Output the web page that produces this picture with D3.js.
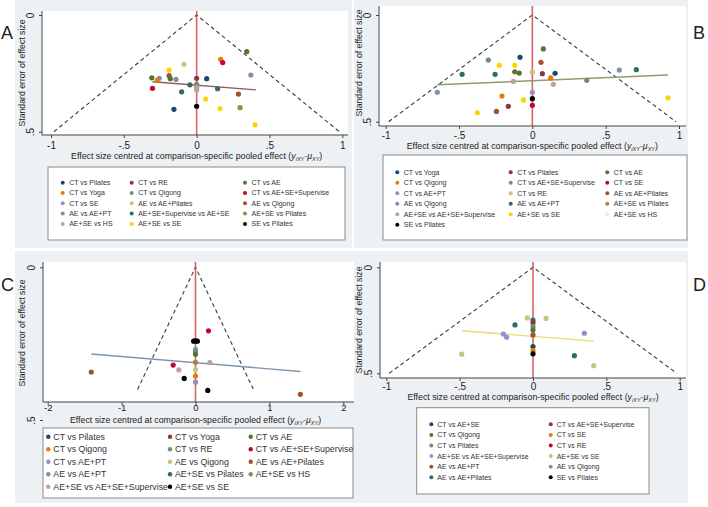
<!DOCTYPE html>
<html>
<head>
<meta charset="utf-8">
<script src="https://cdn.jsdelivr.net/npm/d3@7"></script>
<style>
  body { margin: 0; background: #fff; }
  svg { display: block; font-family: "Liberation Sans", Arial, sans-serif; }
</style>
</head>
<body>
<div id="chart"></div>
<script>
// ---- data ----
var xTicksNarrow = [-1, -0.5, 0, 0.5, 1];
var xTicksWide = [-2, -1, 0, 1, 2];
var yTicks = [0, 0.5];
var panelLabels = ["A", "B", "C", "D"];
var funnelSE = [0.5, 0.5, 0.4, 0.5];   // how far down each funnel is drawn

var namesA = ["CT vs Pilates", "CT vs RE", "CT vs AE", "CT vs Yoga", "CT vs Qigong",
  "CT vs AE+SE+Supervise", "CT vs SE", "AE vs AE+Pilates", "AE vs Qigong", "AE vs AE+PT",
  "AE+SE+Supervise vs AE+SE", "AE+SE vs Pilates", "AE+SE vs HS", "AE+SE vs SE", "SE vs Pilates"];
// [series index, centred effect size, standard error]
var pointsA = [
  [2, 0.344, 0.157], [3, 0.165, 0.19], [5, 0.179, 0.204], [7, -0.087, 0.211], [13, -0.189, 0.236],
  [8, -0.189, 0.26], [9, 0.372, 0.257], [2, -0.308, 0.269], [9, -0.257, 0.271], [3, -0.271, 0.28],
  [2, -0.181, 0.273], [9, -0.142, 0.276], [1, 0, 0.271], [0, 0.069, 0.273], [10, -0.046, 0.299],
  [6, 0, 0.305], [4, 0, 0.297], [12, 0, 0.311], [12, 0, 0.321], [10, 0.144, 0.316],
  [5, -0.303, 0.314], [10, -0.103, 0.329], [8, 0.287, 0.339], [13, 0.062, 0.36], [14, 0, 0.391],
  [0, -0.156, 0.404], [13, 0.16, 0.401], [11, 0.298, 0.397], [13, 0.401, 0.471]];
var fitA = [[-0.303, 0.286], [0.406, 0.321]];

var namesB = ["CT vs Yoga", "CT vs Pilates", "CT vs AE", "CT vs Qigong", "CT vs AE+SE+Supervise",
  "CT vs SE", "CT vs AE+PT", "CT vs RE", "AE vs AE+Pilates", "AE vs Qigong", "AE vs AE+PT",
  "AE+SE vs Pilates", "AE+SE vs AE+SE+Supervise", "AE+SE vs SE", "AE+SE vs HS", "SE vs Pilates"];
var pointsB = [
  [0, -0.084, 0.198], [4, -0.3, 0.211], [13, -0.225, 0.236], [13, -0.12, 0.236], [10, -0.479, 0.278],
  [10, -0.254, 0.278], [2, -0.12, 0.266], [2, -0.089, 0.272], [7, 0, 0.267], [12, -0.13, 0.311],
  [9, -0.648, 0.362], [6, 0, 0.362], [3, -0.207, 0.38], [13, -0.061, 0.398], [15, 0, 0.392],
  [5, 0, 0.423], [1, -0.164, 0.428], [8, -0.245, 0.452], [13, -0.375, 0.458],
  [2, 0.075, 0.159], [8, 0.059, 0.222], [1, 0.068, 0.275], [0, 0.155, 0.273], [3, 0.125, 0.295],
  [12, 0.143, 0.325], [4, 0.371, 0.306], [9, 0.593, 0.258], [10, 0.709, 0.256], [13, 0.925, 0.388]];
var fitB = [[-0.648, 0.327], [0.925, 0.281]];

var namesC = ["CT vs Pilates", "CT vs Yoga", "CT vs AE", "CT vs Qigong", "CT vs RE",
  "CT vs AE+SE+Supervise", "CT vs AE+PT", "AE vs Qigong", "AE vs AE+Pilates", "AE vs AE+PT",
  "AE+SE vs Pilates", "AE+SE vs HS", "AE+SE vs AE+SE+Supervise", "AE+SE vs SE"];
var pointsC = [
  [5, 0.176, 0.208], [13, -0.025, 0.242], [13, 0.025, 0.242], [13, 0, 0.241], [9, 0, 0.269],
  [4, 0, 0.275], [2, 0, 0.285], [11, 0, 0.311], [12, 0.194, 0.312], [5, -0.302, 0.32],
  [12, -0.225, 0.336], [7, 0, 0.335], [3, 0, 0.356], [13, -0.153, 0.364], [6, 0, 0.376],
  [13, 0.166, 0.403], [8, -1.41, 0.343], [8, 1.419, 0.416]];
var fitC = [[-1.41, 0.284], [1.419, 0.341]];

var namesD = ["CT vs AE+SE", "CT vs AE+SE+Supervise", "CT vs Qigong", "CT vs SE", "CT vs Pilates",
  "CT vs RE", "AE+SE vs AE+SE+Supervise", "AE+SE vs SE", "AE vs AE+PT", "AE vs Qigong",
  "AE vs AE+Pilates", "SE vs Pilates"];
var pointsD = [
  [7, -0.039, 0.239], [7, 0.089, 0.241], [10, 0, 0.249], [10, -0.123, 0.272], [1, 0, 0.262],
  [4, 0, 0.28], [2, 0, 0.296], [6, -0.202, 0.315], [6, -0.18, 0.33], [6, 0.35, 0.311],
  [8, 0, 0.319], [0, 0, 0.374], [3, 0, 0.393], [11, 0, 0.408], [7, -0.486, 0.41],
  [10, 0.282, 0.417], [7, 0.414, 0.464]];
var fitD = [[-0.486, 0.299], [0.414, 0.348]];

// stata s2color order, last series of each panel is black
var palette = ["#1a476f", "#90353b", "#55752f", "#e37e00", "#6e8e84", "#c10534", "#938dd2",
  "#cac27e", "#a0522d", "#7b92a8", "#2d6d66", "#9c8847", "#bfa19c", "#ffd200", "#e6edf0"];

var W = 708, H = 507;
var svg = d3.select("#chart").append("svg").attr("width", W).attr("height", H);

var fmt = function (d) {
  return d === 0 ? "0" : String(d).replace(/^(-?)0\./, "$1.");
};

function colorsFor(n) {
  var c = palette.slice(0, n - 1);
  c.push("#000000");
  return c;
}

function drawPanel(cfg) {
  var g = svg.append("g");
  var colors = colorsFor(cfg.names.length);

  // graph region + plot region
  g.append("rect").attr("x", cfg.bg[0]).attr("y", cfg.bg[1])
    .attr("width", cfg.bg[2] - cfg.bg[0]).attr("height", cfg.bg[3] - cfg.bg[1])
    .attr("fill", "#edf1f4");
  g.append("rect").attr("x", cfg.plot[0]).attr("y", cfg.plot[1])
    .attr("width", cfg.plot[2] - cfg.plot[0]).attr("height", cfg.plot[3] - cfg.plot[1])
    .attr("fill", "#fff");

  var x = d3.scaleLinear().domain(cfg.xDomain).range(cfg.xRange);
  var y = d3.scaleLinear().domain([0, 0.5]).range(cfg.yRange);

  // funnel (pseudo 95% limits)
  var seMax = cfg.funnel;
  g.append("path")
    .attr("d", d3.line()([[x(-1.96 * seMax), y(seMax)], [x(0), y(0)], [x(1.96 * seMax), y(seMax)]]))
    .attr("fill", "none").attr("stroke", "#3a3a3a").attr("stroke-width", 1.1)
    .attr("stroke-dasharray", "4,3");

  // red reference line at zero
  g.append("line").attr("x1", x(0)).attr("x2", x(0))
    .attr("y1", cfg.plot[1]).attr("y2", cfg.axisY)
    .attr("stroke", "#d8464a").attr("stroke-opacity", 0.85).attr("stroke-width", 1.6);

  // fitted line
  g.append("line")
    .attr("x1", x(cfg.fit[0][0])).attr("y1", y(cfg.fit[0][1]))
    .attr("x2", x(cfg.fit[1][0])).attr("y2", y(cfg.fit[1][1]))
    .attr("stroke", cfg.fitColor).attr("stroke-width", 1.4);

  // points
  g.selectAll(".pt").data(cfg.points).enter().append("circle")
    .attr("class", "pt")
    .attr("cx", function (d) { return x(d[1]); })
    .attr("cy", function (d) { return y(d[2]); })
    .attr("r", 2.6)
    .attr("fill", function (d) { return colors[d[0]]; });

  // x axis
  var xAxis = g.append("g").attr("transform", "translate(0," + cfg.axisY + ")")
    .call(d3.axisBottom(x).tickValues(cfg.xTicks).tickFormat(fmt).tickSize(3).tickSizeOuter(0));
  xAxis.select(".domain").attr("d", "M" + cfg.plot[0] + ",0H" + cfg.plot[2]).attr("stroke", "#444");
  xAxis.selectAll(".tick line").attr("stroke", "#444");
  xAxis.selectAll("text").attr("font-size", cfg.tickFont).attr("fill", "#222").attr("dy", "0.72em")
    .attr("y", cfg.tickY);

  // y axis
  var yAxis = g.append("g").attr("transform", "translate(" + cfg.axisX + ",0)")
    .call(d3.axisLeft(y).tickValues(yTicks).tickFormat(fmt).tickSize(3).tickSizeOuter(0));
  yAxis.select(".domain").attr("d", "M0," + cfg.plot[1] + "V" + cfg.axisY).attr("stroke", "#444");
  yAxis.selectAll(".tick line").attr("stroke", "#444");
  yAxis.selectAll("text").attr("font-size", 10).attr("fill", "#222")
    .attr("x", null).attr("dy", null).attr("text-anchor", "middle")
    .attr("transform", "translate(-8,0) rotate(-90)");

  // axis titles
  var xt = g.append("text").attr("x", (cfg.xRange[0] + cfg.xRange[1]) / 2).attr("y", cfg.xTitleY)
    .attr("text-anchor", "middle").attr("font-size", 8.8).attr("fill", "#222")
    .text("Effect size centred at comparison-specific pooled effect (");
  xt.append("tspan").attr("font-style", "italic").text("y");
  xt.append("tspan").attr("font-style", "italic").attr("font-size", 5.5).attr("dy", 2).text("iXY");
  xt.append("tspan").attr("font-style", "italic").attr("dy", -2).text("-\u03bc");
  xt.append("tspan").attr("font-style", "italic").attr("font-size", 5.5).attr("dy", 2).text("XY");
  xt.append("tspan").attr("dy", -2).text(")");

  g.append("text")
    .attr("transform", "translate(" + cfg.yTitle[0] + "," + cfg.yTitle[1] + ") rotate(-90)")
    .attr("text-anchor", "middle").attr("font-size", 8.7).attr("fill", "#222")
    .text("Standard error of effect size");

  // legend
  var L = cfg.legend;
  g.append("rect").attr("x", L.box[0]).attr("y", L.box[1])
    .attr("width", L.box[2] - L.box[0]).attr("height", L.box[3] - L.box[1])
    .attr("fill", "#fff").attr("stroke", "#8a8a8a").attr("stroke-width", 1);
  var items = g.selectAll(".leg").data(cfg.names).enter().append("g")
    .attr("transform", function (d, i) {
      var c = i % L.cols.length, r = Math.floor(i / L.cols.length);
      return "translate(" + L.cols[c] + "," + (L.top + r * L.step) + ")";
    });
  items.append("circle").attr("r", L.dot).attr("fill", function (d, i) { return colors[i]; });
  items.append("text").attr("x", L.gap).attr("dy", "0.35em").attr("font-size", L.font)
    .attr("fill", "#333").text(function (d) { return d; });

  // panel letter
  svg.append("text").attr("x", cfg.letter[0]).attr("y", cfg.letter[1])
    .attr("font-size", 18).attr("fill", "#222").text(cfg.label);
}

drawPanel({
  label: panelLabels[0], letter: [1, 39], names: namesA, points: pointsA, fit: fitA,
  fitColor: "#8c5a5a", funnel: funnelSE[0], xTicks: xTicksNarrow, xDomain: [-1, 1],
  bg: [15, 0, 352, 248], plot: [42, 11, 348, 135], xRange: [51, 342.3], yRange: [15, 131.7],
  axisY: 135, axisX: 42, tickY: 7, tickFont: 10, xTitleY: 158.5, yTitle: [25, 73],
  legend: { box: [48, 167, 345, 240], cols: [62.7, 131.7, 245], top: 182.7, step: 10.3,
    dot: 2, gap: 6.5, font: 7 }
});

drawPanel({
  label: panelLabels[1], letter: [693, 39], names: namesB, points: pointsB, fit: fitB,
  fitColor: "#8f9c6c", funnel: funnelSE[1], xTicks: xTicksNarrow, xDomain: [-1, 1],
  bg: [354, 0, 688, 248], plot: [379, 6, 686, 126], xRange: [385.7, 679], yRange: [15, 121.7],
  axisY: 126, axisX: 379, tickY: 6, tickFont: 10, xTitleY: 149, yTitle: [362, 63],
  legend: { box: [383, 155, 687, 240], cols: [397.3, 510.7, 607.3], top: 172.3, step: 10.5,
    dot: 2, gap: 6.5, font: 7 }
});

drawPanel({
  label: panelLabels[2], letter: [1, 291], names: namesC, points: pointsC, fit: fitC,
  fitColor: "#7e96ac", funnel: funnelSE[2], xTicks: xTicksWide, xDomain: [-2, 2],
  bg: [15, 251, 354, 503], plot: [43, 262, 354, 402], xRange: [47.7, 343.3], yRange: [267.3, 420],
  axisY: 402, axisX: 43, tickY: 2.5, tickFont: 9.5, xTitleY: 423, yTitle: [25, 333],
  legend: { box: [43, 428, 353, 498], cols: [48.3, 170, 250.7], top: 436.7, step: 12.5,
    dot: 2.2, gap: 5, font: 8.8 }
});

drawPanel({
  label: panelLabels[3], letter: [693, 291], names: namesD, points: pointsD, fit: fitD,
  fitColor: "#e9dc70", funnel: funnelSE[3], xTicks: xTicksNarrow, xDomain: [-1, 1],
  bg: [354, 251, 688, 503], plot: [380, 262, 686, 378], xRange: [386.3, 679.7], yRange: [267.3, 373.3],
  axisY: 378, axisX: 380, tickY: 5, tickFont: 10, xTitleY: 400, yTitle: [362, 320],
  legend: { box: [416.7, 407.7, 649, 494], cols: [431.3, 550.7], top: 424.3, step: 10.6,
    dot: 2, gap: 6, font: 7 }
});
</script>
</body>
</html>
